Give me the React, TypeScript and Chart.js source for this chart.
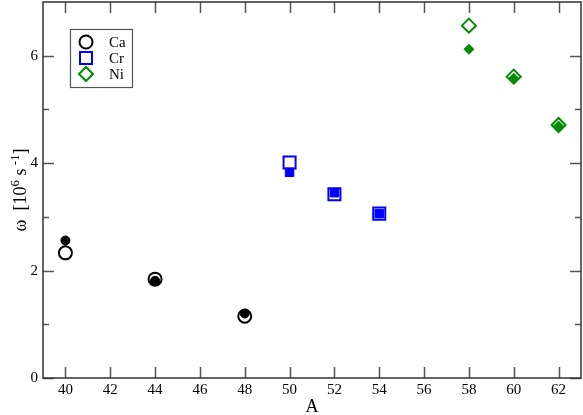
import React, { useEffect, useRef } from "react";
import { Chart, registerables } from "chart.js";

Chart.register(...registerables);

const xTicks = [40, 42, 44, 46, 48, 50, 52, 54, 56, 58, 60, 62];
const yTicks = [0, 2, 4, 6];
const yMinorTicks = [1, 3, 5];

const caA = [40, 44, 48];
const caOpen = [2.33, 1.84, 1.15];
const caFilled = [2.56, 1.81, 1.2];

const crA = [50, 52, 54];
const crOpen = [4.01, 3.42, 3.06];
const crFilled = [3.83, 3.45, 3.06];

const niA = [58, 60, 62];
const niOpen = [6.56, 5.61, 4.71];
const niFilled = [6.12, 5.58, 4.69];

const legendLabels = ["Ca", "Cr", "Ni"];

const BLACK = "#000000";
const BLUE = "#0000ff";
const GREEN = "#008c00";
const FONT = "'Liberation Serif', 'DejaVu Serif', serif";

const pts = (xs: number[], ys: number[]) => xs.map((x, i) => ({ x, y: ys[i] }));

const framePlugin = {
  id: "frame",
  afterDraw(chart: any) {
    const ctx = chart.ctx;
    const a = chart.chartArea;
    const xs = chart.scales.x;
    const ys = chart.scales.y;
    ctx.save();
    // ticks
    ctx.strokeStyle = "#555555";
    ctx.lineWidth = 1.5;
    ctx.beginPath();
    xTicks.forEach((v) => {
      const px = Math.round(xs.getPixelForValue(v)) + 0.5;
      ctx.moveTo(px, a.bottom);
      ctx.lineTo(px, a.bottom - 11);
      ctx.moveTo(px, a.top);
      ctx.lineTo(px, a.top + 11);
    });
    yTicks.forEach((v) => {
      const py = Math.round(ys.getPixelForValue(v)) + 0.5;
      ctx.moveTo(a.left, py);
      ctx.lineTo(a.left + 11, py);
      ctx.moveTo(a.right, py);
      ctx.lineTo(a.right - 11, py);
    });
    yMinorTicks.forEach((v) => {
      const py = Math.round(ys.getPixelForValue(v)) + 0.5;
      ctx.moveTo(a.left, py);
      ctx.lineTo(a.left + 6, py);
      ctx.moveTo(a.right, py);
      ctx.lineTo(a.right - 6, py);
    });
    ctx.stroke();
    // frame
    ctx.strokeStyle = "#333333";
    ctx.lineWidth = 1.5;
    ctx.strokeRect(a.left, a.top, a.right - a.left, a.bottom - a.top);

    // x title
    ctx.fillStyle = "#000";
    ctx.font = `18px ${FONT}`;
    ctx.textAlign = "center";
    ctx.textBaseline = "alphabetic";
    ctx.fillText("A", (a.left + a.right) / 2, 412);

    // y title
    ctx.translate(20, (a.top + a.bottom) / 2);
    ctx.rotate(-Math.PI / 2);
    const parts: [string, boolean][] = [
      ["ω  [10", false],
      ["6", true],
      [" s", false],
      [" -1", true],
      ["]", false],
    ];
    const big = `18px ${FONT}`;
    const small = `13px ${FONT}`;
    let total = 0;
    parts.forEach(([t, sup]) => {
      ctx.font = sup ? small : big;
      total += ctx.measureText(t).width;
    });
    let cx = -total / 2;
    ctx.textAlign = "left";
    parts.forEach(([t, sup]) => {
      ctx.font = sup ? small : big;
      ctx.fillText(t, cx, sup ? -1 : 6);
      cx += ctx.measureText(t).width;
    });
    ctx.restore();

    // legend
    ctx.save();
    ctx.strokeStyle = "#555555";
    ctx.lineWidth = 1.2;
    ctx.fillStyle = "#fff";
    ctx.fillRect(70, 29, 62, 58);
    ctx.strokeRect(70.5, 29.5, 62, 58);
    const rows = [42, 58, 74];
    const colors = [BLACK, BLUE, GREEN];
    rows.forEach((ry, i) => {
      ctx.strokeStyle = colors[i];
      ctx.lineWidth = 2;
      ctx.beginPath();
      if (i === 0) {
        ctx.arc(86, ry, 6.5, 0, Math.PI * 2);
      } else if (i === 1) {
        ctx.rect(80, ry - 6, 12, 12);
      } else {
        ctx.moveTo(86, ry - 7);
        ctx.lineTo(93, ry);
        ctx.lineTo(86, ry + 7);
        ctx.lineTo(79, ry);
        ctx.closePath();
      }
      ctx.stroke();
      ctx.fillStyle = "#000";
      ctx.font = `15px ${FONT}`;
      ctx.textAlign = "left";
      ctx.textBaseline = "middle";
      ctx.fillText(legendLabels[i], 109, ry + 1);
    });
    ctx.restore();
  },
};

const zeroPad = (s: any) => {
  s.paddingLeft = 0;
  s.paddingRight = 0;
  s.paddingTop = 0;
  s.paddingBottom = 0;
};

export default function App() {
  const ref = useRef<HTMLCanvasElement | null>(null);
  useEffect(() => {
    if (!ref.current) return;
    const mk = (
      label: string,
      xs: number[],
      ys: number[],
      color: string,
      style: string,
      radius: number,
      filled: boolean
    ) => ({
      label,
      data: pts(xs, ys),
      pointStyle: style,
      pointRadius: radius,
      pointHoverRadius: radius,
      pointBorderWidth: filled ? 1 : 2,
      pointBorderColor: color,
      pointBackgroundColor: filled ? color : "#ffffff",
      showLine: false,
      order: filled ? 0 : 1,
    });
    const chart = new Chart(ref.current, {
      type: "scatter",
      data: {
        datasets: [
          mk("Ca", caA, caOpen, BLACK, "circle", 6.5, false),
          mk("Cr", crA, crOpen, BLUE, "rect", 8.5, false),
          mk("Ni", niA, niOpen, GREEN, "rectRot", 7, false),
          mk("Ca filled", caA, caFilled, BLACK, "circle", 4.5, true),
          mk("Cr filled", crA, crFilled, BLUE, "rect", 6, true),
          mk("Ni filled", niA, niFilled, GREEN, "rectRot", 5, true),
        ] as any,
      },
      options: {
        animation: false,
        responsive: false,
        layout: { autoPadding: false, padding: { top: 2, right: 2, left: 0, bottom: 0 } },
        plugins: { legend: { display: false }, tooltip: { enabled: false } },
        scales: {
          x: {
            type: "linear",
            min: 39,
            max: 63,
            afterBuildTicks: (s: any) => {
              s.ticks = xTicks.map((v) => ({ value: v }));
            },
            afterFit: (s: any) => {
              s.height = 37;
              zeroPad(s);
            },
            grid: { display: false, drawTicks: false },
            border: { display: false },
            ticks: {
              font: { family: FONT, size: 15 },
              color: "#000",
              padding: 3,
              maxRotation: 0,
              autoSkip: false,
            },
          },
          y: {
            type: "linear",
            min: 0,
            max: 7,
            afterBuildTicks: (s: any) => {
              s.ticks = yTicks.map((v) => ({ value: v }));
            },
            afterFit: (s: any) => {
              s.width = 43;
              zeroPad(s);
            },
            grid: { display: false, drawTicks: false },
            border: { display: false },
            ticks: {
              font: { family: FONT, size: 15 },
              color: "#000",
              padding: 5,
            },
          },
        },
      } as any,
      plugins: [framePlugin],
    });
    return () => chart.destroy();
  }, []);
  return (
    <div style={{ position: "absolute", left: 0, top: 0, width: 583, height: 415, background: "#fff" }}>
      <canvas ref={ref} width={583} height={415} />
    </div>
  );
}
